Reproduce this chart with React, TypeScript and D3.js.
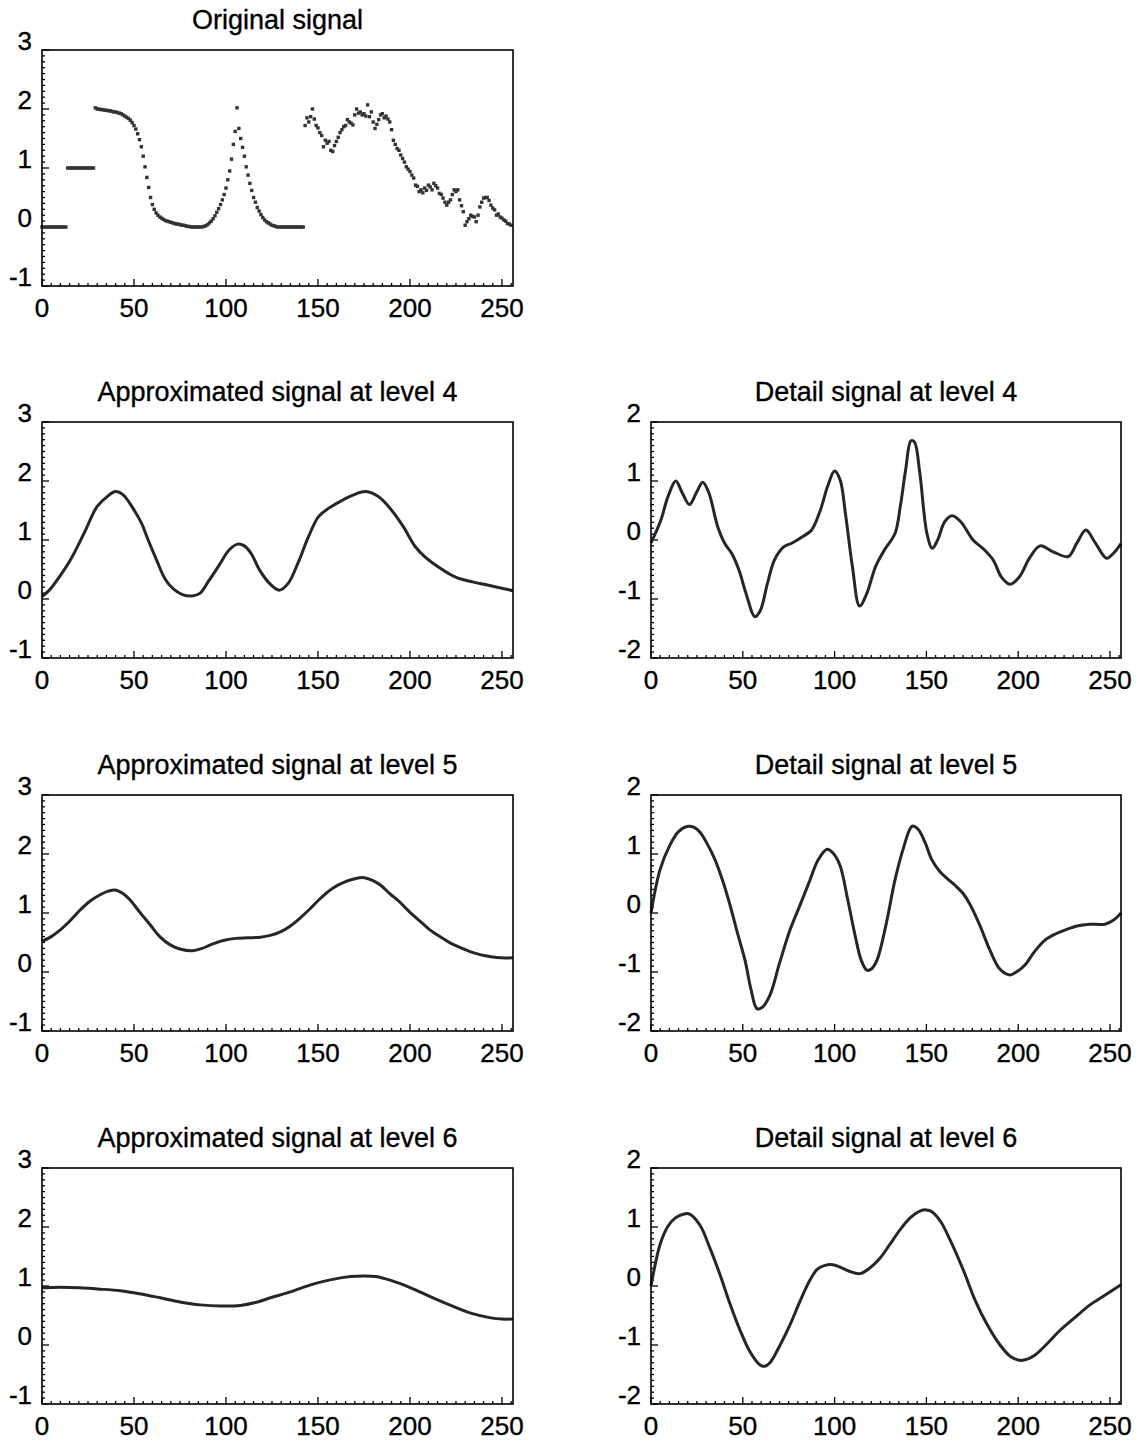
import React from "react";
import * as d3 from "d3";

// ---------- data ----------
const X_TICKS = [0, 50, 100, 150, 200, 250];
const APPROX_Y_TICKS = [-1, 0, 1, 2, 3];
const DETAIL_Y_TICKS = [-2, -1, 0, 1, 2];

const TITLES = [
  "Original signal",
  "Approximated signal at level 4",
  "Detail signal at level 4",
  "Approximated signal at level 5",
  "Detail signal at level 5",
  "Approximated signal at level 6",
  "Detail signal at level 6",
];

// original signal, one value per sample index 0..255
const ORIGINAL = [
  0, 0, 0, 0, 0, 0, 0, 0, 0, 0,
  0, 0, 0, 0, 1, 1, 1, 1, 1, 1,
  1, 1, 1, 1, 1, 1, 1, 1, 1, 2.02,
  2.0, 2.0, 1.99, 1.99, 1.98, 1.98, 1.97, 1.97, 1.96, 1.95,
  1.95, 1.94, 1.93, 1.92, 1.9, 1.88, 1.86, 1.84, 1.81, 1.77,
  1.72, 1.66, 1.58, 1.48, 1.36, 1.2, 1.02, 0.84, 0.67, 0.5,
  0.38, 0.3, 0.24, 0.2, 0.17, 0.15, 0.13, 0.11, 0.1, 0.09,
  0.08, 0.07, 0.06, 0.05, 0.05, 0.04, 0.03, 0.03, 0.02, 0.01,
  0.01, 0, 0, 0, 0, 0, 0, 0, 0.01, 0.02,
  0.04, 0.07, 0.1, 0.14, 0.19, 0.25, 0.31, 0.38, 0.46, 0.55,
  0.66, 0.8, 0.95, 1.15, 1.4, 1.62, 2.02, 1.67, 1.5, 1.35,
  1.2, 1.02, 0.88, 0.74, 0.62, 0.5, 0.42, 0.33, 0.27, 0.21,
  0.16, 0.12, 0.09, 0.07, 0.05, 0.03, 0.02, 0.01, 0, 0,
  0, 0, 0, 0, 0, 0, 0, 0, 0, 0,
  0, 0, 0, 1.72, 1.85, 1.78, 1.87, 2.0, 1.83, 1.72,
  1.68, 1.6, 1.55, 1.36, 1.47, 1.42, 1.45, 1.3, 1.28, 1.38,
  1.45, 1.52, 1.6, 1.65, 1.7, 1.72, 1.82, 1.78, 1.76, 1.73,
  1.9, 2.0, 1.93, 1.95, 1.9, 1.92, 1.88, 2.07, 1.87, 1.95,
  1.78, 1.67, 1.74, 1.82, 1.9, 1.92, 1.85, 1.88, 1.83, 1.78,
  1.65, 1.47, 1.4, 1.33, 1.3, 1.22, 1.16, 1.1, 1.02, 0.98,
  0.94, 0.88, 0.83, 0.71, 0.69, 0.6, 0.63, 0.58, 0.66, 0.62,
  0.71, 0.68, 0.63, 0.74, 0.7, 0.66, 0.57, 0.55, 0.49, 0.42,
  0.37, 0.42, 0.46, 0.55, 0.63, 0.6, 0.63, 0.46, 0.36, 0.26,
  0.03, 0.09, 0.14, 0.2, 0.18, 0.17, 0.09, 0.2, 0.34, 0.42,
  0.49, 0.5, 0.5, 0.45, 0.37, 0.32, 0.29, 0.2, 0.22, 0.17,
  0.15, 0.12, 0.1, 0.06, 0.05, 0.03,
];

const APPROX4: [number, number][] = [
  [0, 0.04], [4, 0.15], [8, 0.31], [15.4, 0.66], [22.8, 1.11], [30, 1.57], [35.6, 1.74],
  [40, 1.82], [44, 1.77], [49.4, 1.54], [54, 1.29], [57.7, 1.0], [62.3, 0.66], [66.9, 0.34],
  [71.4, 0.17], [76, 0.08], [81.5, 0.05], [86, 0.1], [90.7, 0.31], [96.2, 0.57], [101.7, 0.83],
  [106.3, 0.93], [110, 0.9], [113.7, 0.77], [118.3, 0.49], [123.8, 0.26], [129, 0.15],
  [133.9, 0.27], [139.4, 0.63], [144.9, 1.06], [150.4, 1.4], [155.9, 1.54], [162.4, 1.66],
  [169.7, 1.77], [176, 1.82], [182.6, 1.74], [189.9, 1.51], [196.3, 1.23], [202.8, 0.89],
  [208.3, 0.71], [215.6, 0.54], [224.8, 0.37], [234, 0.29], [243.2, 0.23], [256, 0.14],
];

const DETAIL4: [number, number][] = [
  [0, -0.05], [5.4, 0.34], [9.3, 0.74], [13.5, 1.0], [17, 0.8], [20.9, 0.6], [24.7, 0.8],
  [28.2, 0.98], [31.5, 0.8], [36.3, 0.23], [40.2, -0.06], [44, -0.23], [47.9, -0.51],
  [51.8, -0.91], [56.6, -1.3], [59.5, -1.2], [63.4, -0.74], [67.2, -0.34], [72.1, -0.12],
  [76.9, -0.05], [82.7, 0.06], [87.5, 0.17], [92.3, 0.51], [96.2, 0.91], [100, 1.17],
  [103, 1.02], [105.9, 0.45], [109.7, -0.45], [113.6, -1.12], [117.5, -0.91], [122.3, -0.45],
  [127.1, -0.17], [132.9, 0.11], [135.8, 0.57], [138.7, 1.19], [141.6, 1.68], [143.5, 1.66],
  [146.4, 1.14], [150.3, 0.11], [153.2, -0.14], [156.1, 0], [160, 0.31], [164, 0.41],
  [168.7, 0.31], [175.4, 0.0], [181, -0.15], [186.4, -0.34], [190.9, -0.63], [195.5, -0.75],
  [200.5, -0.63], [206.3, -0.3], [211.9, -0.1], [219.1, -0.2], [227.3, -0.28], [232, -0.05],
  [236.9, 0.17], [242, -0.05], [248.2, -0.31], [252, -0.22], [256, -0.06],
];

const APPROX5: [number, number][] = [
  [0, 0.52], [5, 0.6], [9.8, 0.71], [15, 0.86], [20.7, 1.05], [26, 1.2], [31.6, 1.31],
  [36, 1.37], [39.8, 1.39], [44, 1.33], [47.9, 1.22], [53, 1.02], [58.8, 0.8], [64, 0.6],
  [69.7, 0.46], [75, 0.39], [81.7, 0.36], [87, 0.4], [91.5, 0.46], [98, 0.53], [105.1, 0.57],
  [112, 0.58], [118.7, 0.59], [124, 0.62], [129.6, 0.68], [135, 0.78], [140.5, 0.92],
  [146, 1.08], [151.4, 1.25], [158, 1.42], [165, 1.53], [170, 1.58], [174.3, 1.6], [179, 1.56],
  [184.1, 1.47], [189, 1.33], [195, 1.17], [200, 1.01], [205.9, 0.85], [211, 0.71],
  [216.8, 0.59], [222, 0.49], [227.7, 0.41], [233, 0.34], [238.6, 0.29], [244, 0.26],
  [249.5, 0.24], [256, 0.24],
];

const DETAIL5: [number, number][] = [
  [0, 0.0], [4.9, 0.73], [10.3, 1.15], [15, 1.38], [20.2, 1.47], [23.5, 1.45], [26.7, 1.37],
  [30.5, 1.18], [34.9, 0.9], [39, 0.55], [43, 0.14], [47, -0.33], [51.2, -0.8], [54.5, -1.3],
  [57.7, -1.62], [60.5, -1.6], [64.8, -1.39], [70, -0.85], [75.7, -0.29], [81, 0.12],
  [86.6, 0.56], [91, 0.9], [95.9, 1.08], [99, 1.02], [102.9, 0.81], [107, 0.25],
  [111.1, -0.37], [114.5, -0.8], [117.6, -0.97], [120, -0.95], [123.1, -0.8], [128, -0.2],
  [132.9, 0.56], [137.5, 1.1], [142.2, 1.47], [145.5, 1.42], [149.2, 1.2], [153, 0.9],
  [157.4, 0.7], [161.5, 0.58], [165.6, 0.47], [170, 0.33], [173.7, 0.15], [179, -0.2],
  [184.6, -0.63], [190, -0.95], [195.5, -1.05], [199, -1.0], [203.7, -0.88], [209, -0.65],
  [214.6, -0.46], [220, -0.36], [225.5, -0.29], [232, -0.22], [239.1, -0.19], [247.3, -0.19],
  [252, -0.12], [256, 0.0],
];

const APPROX6: [number, number][] = [
  [0, 0.97], [10, 0.98], [20.7, 0.97], [30, 0.95], [42.5, 0.92], [53, 0.87], [64.3, 0.8],
  [75, 0.73], [86, 0.68], [97, 0.66], [107.8, 0.67], [116, 0.72], [124.2, 0.8], [135, 0.9],
  [146, 1.02], [156, 1.1], [167.8, 1.16], [175, 1.17], [181.4, 1.16], [190, 1.09],
  [200.4, 0.97], [211, 0.82], [222.2, 0.67], [233, 0.54], [244, 0.46], [250, 0.44], [256, 0.44],
];

const DETAIL6: [number, number][] = [
  [0, 0.0], [4.9, 0.7], [9, 1.0], [13.1, 1.15], [18, 1.22], [21, 1.22], [26.7, 1.03],
  [32, 0.65], [37.6, 0.19], [43, -0.3], [48.5, -0.75], [54, -1.12], [59.4, -1.34], [62, -1.36],
  [64.8, -1.3], [70, -1.02], [75.7, -0.66], [81, -0.27], [86.6, 0.1], [90.5, 0.28],
  [94.8, 0.35], [99, 0.36], [103, 0.32], [108, 0.25], [113.8, 0.21], [119, 0.3], [124.7, 0.47],
  [130, 0.7], [135.6, 0.95], [141, 1.15], [146.5, 1.27], [150, 1.29], [153, 1.26], [158, 1.08],
  [162.9, 0.78], [170, 0.28], [176.5, -0.24], [183, -0.65], [190.1, -1.0], [196, -1.2],
  [201, -1.26], [205, -1.24], [209.2, -1.17], [216, -0.97], [222.8, -0.75], [231, -0.53],
  [239.1, -0.32], [247, -0.16], [256, 0.02],
];

// ---------- layout ----------
const W = 1148;
const H = 1442;
const COL_X = [[42, 513], [651, 1121]];
const ROW_TOP = [50, 422, 795, 1168];
const BOX_H = 236;
const FONT = "'Liberation Sans', Arial, Helvetica, sans-serif";
const INK = "#262626";

type PanelProps = {
  col: number;
  row: number;
  title: string;
  yDomain: [number, number];
  yTicks: number[];
  line?: [number, number][];
  dots?: number[];
};

const textStyle = { stroke: "#000", strokeWidth: 0.35 } as const;

function Panel({ col, row, title, yDomain, yTicks, line, dots }: PanelProps) {
  const [x0, x1] = COL_X[col];
  const top = ROW_TOP[row];
  const bottom = top + BOX_H;
  const x = d3.scaleLinear().domain([0, 256]).range([x0, x1]);
  const y = d3.scaleLinear().domain(yDomain).range([bottom, top]);
  const minorX = d3.range(0, 257, 5);
  const minorY = d3.range(Math.round(yDomain[0] * 10), Math.round(yDomain[1] * 10) + 1).map((v) => v / 10);
  const lineGen = d3
    .line<[number, number]>()
    .x((d) => x(d[0]))
    .y((d) => y(d[1]))
    .curve(d3.curveCatmullRom.alpha(0.5));

  return (
    <g>
      <text
        x={(x0 + x1) / 2}
        y={top - 21}
        textAnchor="middle"
        fontFamily={FONT}
        fontSize={27}
        fill="#000"
        style={textStyle}
      >
        {title}
      </text>
      {minorX.map((v) => (
        <line key={"mx" + v} x1={x(v)} x2={x(v)} y1={bottom} y2={bottom - (v % 50 === 0 ? 7 : 3)} stroke="#000" strokeWidth={1.3} />
      ))}
      {minorY.map((v) => (
        <line
          key={"my" + v}
          x1={x0}
          x2={x0 + (Math.abs(v - Math.round(v)) < 1e-6 ? 7 : 3)}
          y1={y(v)}
          y2={y(v)}
          stroke="#000"
          strokeWidth={1.3}
        />
      ))}
      {line && <path d={lineGen(line) || ""} fill="none" stroke={INK} strokeWidth={3} strokeLinejoin="round" />}
      {dots &&
        dots.map((v, i) => (
          <rect key={"d" + i} x={x(i) - 1.7} y={y(v) - 1.7} width={3.4} height={3.4} fill="#333" />
        ))}
      <rect x={x0} y={top} width={x1 - x0} height={BOX_H} fill="none" stroke="#000" strokeWidth={1.6} />
      {yTicks.map((v) => (
        <text key={"yl" + v} x={x0 - 10} y={y(v)} textAnchor="end" fontFamily={FONT} fontSize={26} fill="#000" style={textStyle}>
          {String(v)}
        </text>
      ))}
      {X_TICKS.map((v) => (
        <text key={"xl" + v} x={x(v)} y={bottom + 31} textAnchor="middle" fontFamily={FONT} fontSize={26} fill="#000" style={textStyle}>
          {String(v)}
        </text>
      ))}
    </g>
  );
}

export default function App() {
  return (
    <svg
      width={W}
      height={H}
      viewBox={`0 0 ${W} ${H}`}
      style={{ position: "absolute", left: 0, top: 0, background: "#fff" }}
    >
      <rect x={0} y={0} width={W} height={H} fill="#fff" />
      <Panel col={0} row={0} title={TITLES[0]} yDomain={[-1, 3]} yTicks={APPROX_Y_TICKS} dots={ORIGINAL} />
      <Panel col={0} row={1} title={TITLES[1]} yDomain={[-1, 3]} yTicks={APPROX_Y_TICKS} line={APPROX4} />
      <Panel col={1} row={1} title={TITLES[2]} yDomain={[-2, 2]} yTicks={DETAIL_Y_TICKS} line={DETAIL4} />
      <Panel col={0} row={2} title={TITLES[3]} yDomain={[-1, 3]} yTicks={APPROX_Y_TICKS} line={APPROX5} />
      <Panel col={1} row={2} title={TITLES[4]} yDomain={[-2, 2]} yTicks={DETAIL_Y_TICKS} line={DETAIL5} />
      <Panel col={0} row={3} title={TITLES[5]} yDomain={[-1, 3]} yTicks={APPROX_Y_TICKS} line={APPROX6} />
      <Panel col={1} row={3} title={TITLES[6]} yDomain={[-2, 2]} yTicks={DETAIL_Y_TICKS} line={DETAIL6} />
    </svg>
  );
}
